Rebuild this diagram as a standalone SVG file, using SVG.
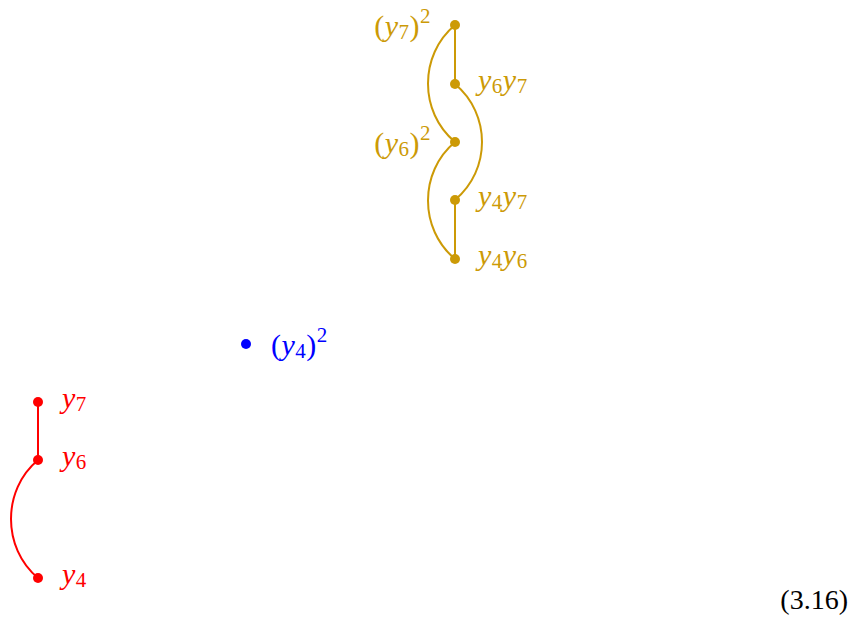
<svg xmlns="http://www.w3.org/2000/svg" width="851" height="617" viewBox="0 0 851 617">
<style>
text{font-family:"Liberation Serif","DejaVu Serif",serif;font-size:30px;letter-spacing:0.5px}
.i{font-style:italic}
.s{font-size:21px}
.gold{fill:#cc9a06}
.gl{stroke:#cc9a06;stroke-width:2;fill:none}
.red{fill:#ff0000}
.rl{stroke:#ff0000;stroke-width:2;fill:none}
.blue{fill:#0000ff}
</style>
<rect width="851" height="617" fill="#fff"/>
<g id="connectors">
<line class="gl" x1="455" y1="25" x2="455" y2="84"/>
<line class="gl" x1="455" y1="200" x2="455" y2="259"/>
<path class="gl" d="M455,25 C419,55 419,112 455,142"/>
<path class="gl" d="M455,84 C491,114 491,170 455,200"/>
<path class="gl" d="M455,142 C419,172 419,229 455,259"/>
<line class="rl" x1="38" y1="402" x2="38" y2="460"/>
<path class="rl" d="M38,460 C2,490 2,548 38,578"/>
</g>
<g id="n_y7sq">
<circle class="gold" cx="455" cy="25" r="5"/>
<text class="gold" x="431" y="36" text-anchor="end">(<tspan class="i">y</tspan><tspan class="s" dy="3">7</tspan><tspan dy="-3">)</tspan><tspan class="s" dy="-13">2</tspan></text>
</g>
<g id="n_y6y7">
<circle class="gold" cx="455" cy="84" r="5"/>
<text class="gold" x="478" y="90"><tspan class="i">y</tspan><tspan class="s" dy="3">6</tspan><tspan class="i" dy="-3">y</tspan><tspan class="s" dy="3">7</tspan></text>
</g>
<g id="n_y6sq">
<circle class="gold" cx="455" cy="142" r="5"/>
<text class="gold" x="431" y="153" text-anchor="end">(<tspan class="i">y</tspan><tspan class="s" dy="3">6</tspan><tspan dy="-3">)</tspan><tspan class="s" dy="-13">2</tspan></text>
</g>
<g id="n_y4y7">
<circle class="gold" cx="455" cy="200" r="5"/>
<text class="gold" x="478" y="206"><tspan class="i">y</tspan><tspan class="s" dy="3">4</tspan><tspan class="i" dy="-3">y</tspan><tspan class="s" dy="3">7</tspan></text>
</g>
<g id="n_y4y6">
<circle class="gold" cx="455" cy="259" r="5"/>
<text class="gold" x="478" y="265"><tspan class="i">y</tspan><tspan class="s" dy="3">4</tspan><tspan class="i" dy="-3">y</tspan><tspan class="s" dy="3">6</tspan></text>
</g>
<g id="n_y4sq">
<circle class="blue" cx="246" cy="344" r="5"/>
<text class="blue" x="271" y="355">(<tspan class="i">y</tspan><tspan class="s" dy="3">4</tspan><tspan dy="-3">)</tspan><tspan class="s" dy="-13">2</tspan></text>
</g>
<g id="n_y7">
<circle class="red" cx="38" cy="402" r="5"/>
<text class="red" x="62" y="408"><tspan class="i">y</tspan><tspan class="s" dy="3">7</tspan></text>
</g>
<g id="n_y6">
<circle class="red" cx="38" cy="460" r="5"/>
<text class="red" x="62" y="466"><tspan class="i">y</tspan><tspan class="s" dy="3">6</tspan></text>
</g>
<g id="n_y4">
<circle class="red" cx="38" cy="578" r="5"/>
<text class="red" x="62" y="584"><tspan class="i">y</tspan><tspan class="s" dy="3">4</tspan></text>
</g>
<text x="848" y="609" text-anchor="end" style="font-size:28px;letter-spacing:0">(3.16)</text>
</svg>
